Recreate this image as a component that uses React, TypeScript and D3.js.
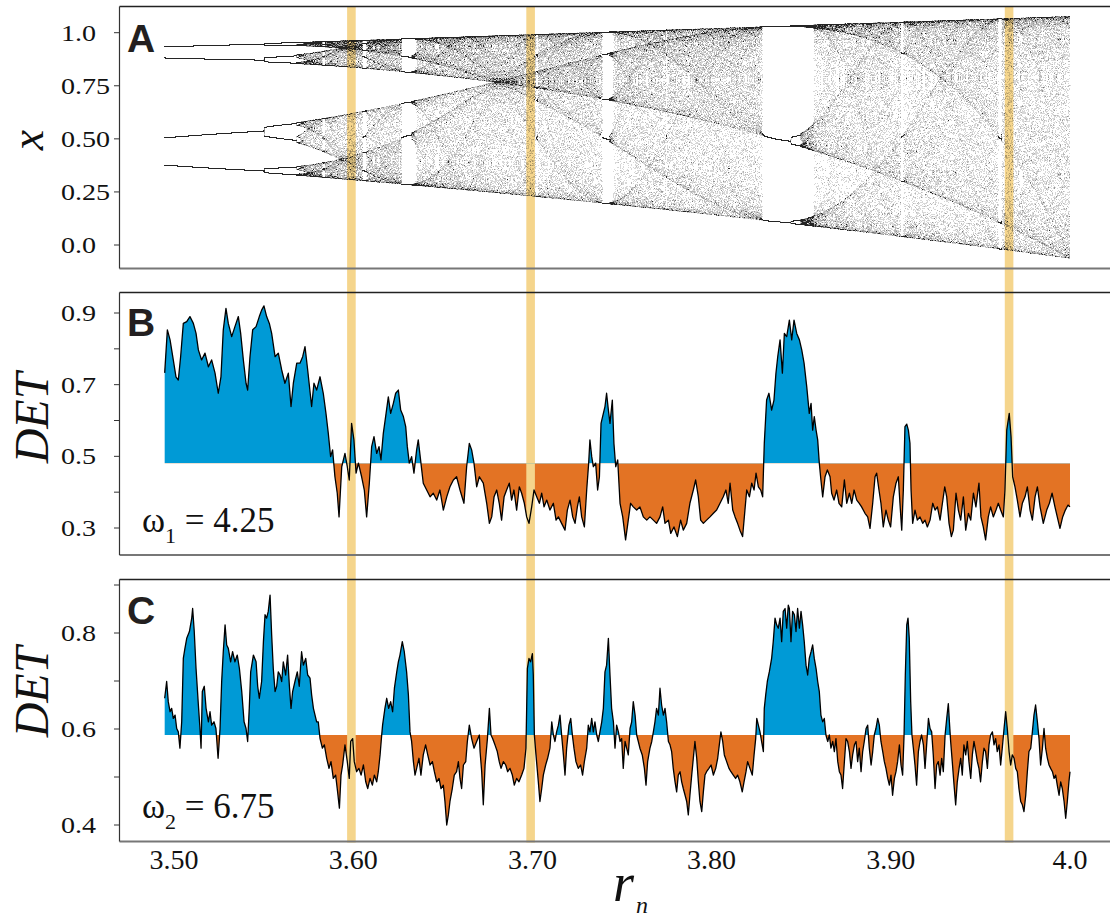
import React, { useMemo } from "react";
import * as d3 from "d3";

// ---------- axis / annotation data ----------
const xTickValues = [3.5, 3.6, 3.7, 3.8, 3.9, 4.0];
const xTickLabels = ["3.50", "3.60", "3.70", "3.80", "3.90", "4.0"];
const aTickValues = [0, 0.25, 0.5, 0.75, 1.0];
const aTickLabels = ["0.0", "0.25", "0.50", "0.75", "1.0"];
const bTickValues = [0.3, 0.5, 0.7, 0.9];
const bMinorTicks = [0.4, 0.6, 0.8];
const cTickValues = [0.4, 0.6, 0.8];
const cMinorTicks = [0.5, 0.7, 0.9];
const highlightR = [3.599, 3.699, 3.966];
const baselineB = 0.481;
const baselineC = 0.5875;
const omegaLabels = ["4.25", "6.75"];

// ---------- panel A: logistic map with slowly drifting r_n ----------
const rStart = 3.4948;
const rEnd = 4.0;
const nSteps = 150000;
const xGain = 1.14; // display rescaling of x seen on the axis
const xOffset = -0.063;

// ---------- panel B: DET (omega1 = 4.25), [r_n, DET] ----------
const detB: [number, number][] = [
  [3.4948,0.733],[3.4963,0.853],[3.4978,0.825],[3.4996,0.769],[3.5011,0.722],[3.5024,0.713],[3.5037,0.778],[3.5052,0.871],[3.5071,0.876],[3.5089,0.890],
  [3.5108,0.871],[3.5123,0.843],[3.5136,0.797],[3.5154,0.769],[3.5173,0.788],[3.5192,0.750],[3.5210,0.769],[3.5229,0.732],[3.5247,0.676],[3.5262,0.722],
  [3.5275,0.853],[3.5290,0.913],[3.5303,0.871],[3.5322,0.834],[3.5340,0.862],[3.5359,0.890],[3.5372,0.843],[3.5387,0.769],[3.5402,0.704],[3.5411,0.685],
  [3.5424,0.778],[3.5439,0.853],[3.5458,0.862],[3.5476,0.890],[3.5489,0.908],[3.5502,0.920],[3.5517,0.890],[3.5532,0.871],[3.5545,0.843],[3.5564,0.778],
  [3.5582,0.788],[3.5601,0.741],[3.5619,0.704],[3.5638,0.732],[3.5653,0.639],[3.5666,0.704],[3.5685,0.760],[3.5703,0.760],[3.5718,0.778],[3.5731,0.806],
  [3.5746,0.741],[3.5768,0.639],[3.5781,0.704],[3.5796,0.685],[3.5815,0.722],[3.5833,0.676],[3.5848,0.620],[3.5861,0.564],[3.5874,0.499],[3.5885,0.518],
  [3.5898,0.443],[3.5911,0.397],[3.5921,0.331],[3.5936,0.471],[3.5954,0.508],[3.5967,0.471],[3.5978,0.434],[3.5991,0.592],[3.6004,0.546],[3.6016,0.453],
  [3.6029,0.481],[3.6047,0.443],[3.6062,0.406],[3.6075,0.331],[3.6090,0.425],[3.6103,0.527],[3.6116,0.555],[3.6131,0.508],[3.6144,0.527],[3.6155,0.490],
  [3.6168,0.564],[3.6181,0.611],[3.6196,0.666],[3.6209,0.620],[3.6224,0.648],[3.6237,0.676],[3.6252,0.685],[3.6265,0.629],[3.6280,0.611],[3.6293,0.583],
  [3.6302,0.527],[3.6313,0.481],[3.6326,0.499],[3.6339,0.453],[3.6354,0.518],[3.6363,0.546],[3.6376,0.490],[3.6391,0.425],[3.6410,0.406],[3.6429,0.387],
  [3.6447,0.397],[3.6466,0.378],[3.6484,0.406],[3.6503,0.350],[3.6522,0.387],[3.6540,0.415],[3.6559,0.434],[3.6577,0.443],[3.6596,0.406],[3.6618,0.369],
  [3.6633,0.471],[3.6648,0.536],[3.6661,0.518],[3.6674,0.481],[3.6689,0.415],[3.6704,0.443],[3.6726,0.425],[3.6745,0.369],[3.6760,0.313],[3.6773,0.331],
  [3.6786,0.387],[3.6801,0.406],[3.6815,0.369],[3.6828,0.322],[3.6842,0.387],[3.6856,0.406],[3.6871,0.425],[3.6884,0.378],[3.6897,0.406],[3.6912,0.350],
  [3.6927,0.415],[3.6940,0.397],[3.6955,0.369],[3.6968,0.331],[3.6981,0.313],[3.6996,0.359],[3.7009,0.406],[3.7024,0.387],[3.7039,0.369],[3.7052,0.397],
  [3.7065,0.359],[3.7080,0.378],[3.7098,0.350],[3.7117,0.369],[3.7132,0.322],[3.7145,0.331],[3.7163,0.313],[3.7182,0.294],[3.7195,0.350],[3.7210,0.378],
  [3.7225,0.331],[3.7238,0.313],[3.7251,0.359],[3.7262,0.387],[3.7275,0.331],[3.7290,0.303],[3.7303,0.406],[3.7314,0.481],[3.7321,0.546],[3.7331,0.499],
  [3.7340,0.471],[3.7353,0.481],[3.7364,0.406],[3.7374,0.443],[3.7383,0.592],[3.7396,0.620],[3.7405,0.639],[3.7414,0.676],[3.7424,0.629],[3.7433,0.592],
  [3.7446,0.657],[3.7455,0.536],[3.7465,0.471],[3.7476,0.490],[3.7489,0.369],[3.7504,0.331],[3.7520,0.267],[3.7535,0.322],[3.7548,0.369],[3.7563,0.359],
  [3.7582,0.350],[3.7600,0.359],[3.7619,0.331],[3.7638,0.322],[3.7656,0.331],[3.7675,0.322],[3.7693,0.313],[3.7712,0.331],[3.7727,0.359],[3.7740,0.313],
  [3.7759,0.322],[3.7772,0.285],[3.7790,0.303],[3.7809,0.276],[3.7827,0.322],[3.7842,0.294],[3.7861,0.313],[3.7879,0.369],[3.7898,0.406],[3.7911,0.434],
  [3.7926,0.387],[3.7939,0.322],[3.7954,0.313],[3.7972,0.322],[3.7991,0.331],[3.8010,0.341],[3.8028,0.350],[3.8047,0.369],[3.8065,0.387],[3.8080,0.406],
  [3.8093,0.369],[3.8103,0.425],[3.8118,0.350],[3.8131,0.331],[3.8145,0.313],[3.8158,0.294],[3.8173,0.276],[3.8186,0.350],[3.8196,0.406],[3.8211,0.387],
  [3.8224,0.425],[3.8237,0.406],[3.8248,0.453],[3.8261,0.415],[3.8274,0.406],[3.8285,0.387],[3.8294,0.536],[3.8307,0.657],[3.8320,0.676],[3.8335,0.629],
  [3.8348,0.657],[3.8359,0.732],[3.8369,0.778],[3.8382,0.825],[3.8395,0.732],[3.8406,0.843],[3.8419,0.834],[3.8434,0.880],[3.8447,0.825],[3.8460,0.880],
  [3.8475,0.843],[3.8490,0.825],[3.8503,0.797],[3.8516,0.760],[3.8531,0.694],[3.8545,0.620],[3.8555,0.648],[3.8564,0.573],[3.8573,0.611],[3.8583,0.573],
  [3.8592,0.546],[3.8601,0.481],[3.8610,0.434],[3.8620,0.387],[3.8633,0.443],[3.8646,0.462],[3.8661,0.443],[3.8670,0.397],[3.8683,0.378],[3.8698,0.406],
  [3.8711,0.369],[3.8726,0.359],[3.8741,0.434],[3.8754,0.369],[3.8769,0.397],[3.8782,0.369],[3.8795,0.406],[3.8810,0.378],[3.8824,0.369],[3.8837,0.359],
  [3.8856,0.341],[3.8871,0.331],[3.8884,0.299],[3.8899,0.369],[3.8912,0.443],[3.8921,0.453],[3.8934,0.406],[3.8945,0.369],[3.8958,0.303],[3.8973,0.350],
  [3.8986,0.322],[3.8999,0.303],[3.9014,0.387],[3.9029,0.425],[3.9042,0.443],[3.9051,0.369],[3.9061,0.294],[3.9070,0.406],[3.9079,0.583],[3.9089,0.590],
  [3.9098,0.573],[3.9107,0.536],[3.9113,0.406],[3.9122,0.313],[3.9135,0.350],[3.9148,0.322],[3.9163,0.331],[3.9178,0.313],[3.9191,0.322],[3.9204,0.303],
  [3.9219,0.322],[3.9234,0.369],[3.9247,0.350],[3.9260,0.359],[3.9275,0.322],[3.9288,0.369],[3.9301,0.415],[3.9312,0.387],[3.9325,0.313],[3.9338,0.276],
  [3.9349,0.294],[3.9364,0.397],[3.9377,0.350],[3.9390,0.322],[3.9405,0.387],[3.9418,0.294],[3.9433,0.341],[3.9446,0.322],[3.9461,0.397],[3.9475,0.359],
  [3.9492,0.425],[3.9503,0.331],[3.9516,0.303],[3.9529,0.267],[3.9544,0.331],[3.9557,0.359],[3.9572,0.331],[3.9587,0.350],[3.9600,0.369],[3.9613,0.350],
  [3.9628,0.331],[3.9637,0.406],[3.9647,0.573],[3.9661,0.620],[3.9671,0.555],[3.9680,0.443],[3.9693,0.415],[3.9706,0.378],[3.9721,0.331],[3.9734,0.369],
  [3.9749,0.387],[3.9762,0.415],[3.9777,0.350],[3.9790,0.322],[3.9805,0.387],[3.9818,0.415],[3.9833,0.359],[3.9851,0.313],[3.9870,0.350],[3.9885,0.369],
  [3.9900,0.397],[3.9916,0.359],[3.9929,0.331],[3.9944,0.299],[3.9959,0.331],[3.9974,0.350],[3.9989,0.364],[4.0000,0.359],
];

// ---------- panel C: DET (omega2 = 6.75), [r_n, DET] ----------
const detC: [number, number][] = [
  [3.4948,0.664],[3.4959,0.699],[3.4968,0.657],[3.4978,0.636],[3.4987,0.643],[3.4996,0.622],[3.5006,0.629],[3.5015,0.601],[3.5024,0.594],[3.5033,0.560],
  [3.5043,0.615],[3.5052,0.747],[3.5061,0.768],[3.5071,0.789],[3.5086,0.803],[3.5099,0.831],[3.5104,0.851],[3.5113,0.803],[3.5123,0.726],[3.5136,0.650],
  [3.5145,0.601],[3.5151,0.560],[3.5158,0.678],[3.5169,0.689],[3.5179,0.643],[3.5192,0.615],[3.5201,0.636],[3.5210,0.608],[3.5223,0.615],[3.5234,0.601],
  [3.5246,0.539],[3.5257,0.601],[3.5266,0.699],[3.5275,0.761],[3.5285,0.817],[3.5294,0.775],[3.5303,0.768],[3.5316,0.740],[3.5327,0.761],[3.5340,0.740],
  [3.5353,0.754],[3.5365,0.726],[3.5378,0.678],[3.5391,0.615],[3.5402,0.601],[3.5411,0.574],[3.5420,0.643],[3.5428,0.719],[3.5443,0.754],[3.5458,0.740],
  [3.5467,0.689],[3.5476,0.664],[3.5489,0.699],[3.5499,0.782],[3.5508,0.838],[3.5517,0.831],[3.5526,0.845],[3.5536,0.879],[3.5545,0.796],[3.5554,0.726],
  [3.5564,0.678],[3.5573,0.689],[3.5582,0.719],[3.5592,0.7125],[3.5601,0.699],[3.5610,0.740],[3.5623,0.7125],[3.5634,0.754],[3.5644,0.689],[3.5653,0.643],
  [3.5662,0.678],[3.5675,0.699],[3.5688,0.719],[3.5699,0.689],[3.5712,0.761],[3.5722,0.733],[3.5735,0.747],[3.5746,0.7125],[3.5759,0.706],[3.5768,0.671],
  [3.5778,0.643],[3.5787,0.629],[3.5796,0.615],[3.5805,0.615],[3.5815,0.580],[3.5828,0.560],[3.5839,0.567],[3.5852,0.539],[3.5865,0.518],[3.5876,0.532],
  [3.5889,0.497],[3.5902,0.504],[3.5913,0.469],[3.5923,0.435],[3.5932,0.504],[3.5941,0.525],[3.5954,0.567],[3.5967,0.532],[3.5978,0.497],[3.5986,0.574],
  [3.5997,0.580],[3.6006,0.532],[3.6019,0.511],[3.6032,0.518],[3.6044,0.504],[3.6057,0.525],[3.6070,0.490],[3.6081,0.476],[3.6094,0.497],[3.6107,0.483],
  [3.6118,0.504],[3.6131,0.490],[3.6140,0.511],[3.6150,0.546],[3.6159,0.5875],[3.6164,0.608],[3.6177,0.643],[3.6187,0.664],[3.6198,0.643],[3.6209,0.657],
  [3.6220,0.636],[3.6230,0.685],[3.6243,0.719],[3.6252,0.740],[3.6261,0.754],[3.6274,0.782],[3.6285,0.761],[3.6298,0.719],[3.6308,0.671],[3.6317,0.594],
  [3.6326,0.574],[3.6336,0.532],[3.6345,0.504],[3.6354,0.518],[3.6367,0.539],[3.6378,0.504],[3.6391,0.546],[3.6404,0.567],[3.6416,0.546],[3.6429,0.525],
  [3.6442,0.532],[3.6453,0.511],[3.6466,0.490],[3.6479,0.497],[3.6490,0.476],[3.6503,0.483],[3.6512,0.449],[3.6522,0.400],[3.6531,0.421],[3.6540,0.449],
  [3.6553,0.476],[3.6564,0.504],[3.6577,0.511],[3.6587,0.532],[3.6596,0.497],[3.6605,0.476],[3.6615,0.525],[3.6628,0.532],[3.6637,0.574],[3.6648,0.608],
  [3.6661,0.580],[3.6674,0.560],[3.6689,0.574],[3.6704,0.5875],[3.6708,0.553],[3.6717,0.511],[3.6726,0.442],[3.6736,0.525],[3.6749,0.580],[3.6760,0.643],
  [3.6769,0.5875],[3.6778,0.580],[3.6791,0.567],[3.6804,0.553],[3.6815,0.532],[3.6825,0.518],[3.6838,0.532],[3.6851,0.525],[3.6862,0.511],[3.6875,0.518],
  [3.6888,0.504],[3.6899,0.483],[3.6912,0.497],[3.6925,0.490],[3.6940,0.504],[3.6953,0.518],[3.6964,0.560],[3.6972,0.726],[3.6981,0.747],[3.6990,0.740],
  [3.7000,0.757],[3.7005,0.7125],[3.7011,0.5875],[3.7020,0.546],[3.7033,0.490],[3.7042,0.449],[3.7052,0.476],[3.7061,0.504],[3.7074,0.525],[3.7085,0.539],
  [3.7098,0.560],[3.7108,0.615],[3.7117,0.5875],[3.7126,0.574],[3.7135,0.594],[3.7145,0.608],[3.7154,0.629],[3.7163,0.5875],[3.7173,0.546],[3.7182,0.504],
  [3.7191,0.560],[3.7204,0.608],[3.7214,0.622],[3.7223,0.5875],[3.7232,0.560],[3.7243,0.532],[3.7256,0.518],[3.7269,0.525],[3.7280,0.504],[3.7290,0.532],
  [3.7303,0.560],[3.7312,0.608],[3.7321,0.594],[3.7331,0.622],[3.7340,0.594],[3.7349,0.615],[3.7359,0.5875],[3.7368,0.574],[3.7377,0.594],[3.7387,0.615],
  [3.7396,0.643],[3.7405,0.719],[3.7414,0.733],[3.7424,0.789],[3.7433,0.7125],[3.7442,0.643],[3.7452,0.615],[3.7461,0.560],[3.7470,0.608],[3.7480,0.594],
  [3.7489,0.574],[3.7498,0.580],[3.7507,0.518],[3.7517,0.574],[3.7526,0.560],[3.7535,0.546],[3.7545,0.601],[3.7554,0.615],[3.7563,0.657],[3.7573,0.629],
  [3.7582,0.5875],[3.7591,0.574],[3.7600,0.560],[3.7613,0.546],[3.7625,0.518],[3.7634,0.483],[3.7643,0.532],[3.7656,0.560],[3.7666,0.574],[3.7675,0.594],
  [3.7684,0.615],[3.7693,0.643],[3.7703,0.629],[3.7712,0.685],[3.7721,0.650],[3.7731,0.629],[3.7740,0.643],[3.7749,0.615],[3.7759,0.574],[3.7768,0.567],
  [3.7777,0.553],[3.7786,0.518],[3.7796,0.490],[3.7805,0.469],[3.7814,0.504],[3.7824,0.511],[3.7833,0.490],[3.7842,0.476],[3.7852,0.462],[3.7861,0.449],
  [3.7870,0.421],[3.7879,0.462],[3.7889,0.504],[3.7898,0.539],[3.7907,0.574],[3.7917,0.539],[3.7926,0.490],[3.7935,0.449],[3.7945,0.428],[3.7954,0.469],
  [3.7963,0.504],[3.7972,0.511],[3.7985,0.518],[3.7997,0.525],[3.8010,0.504],[3.8023,0.518],[3.8034,0.539],[3.8043,0.567],[3.8052,0.594],[3.8062,0.574],
  [3.8071,0.546],[3.8084,0.532],[3.8097,0.518],[3.8108,0.511],[3.8121,0.504],[3.8134,0.497],[3.8145,0.504],[3.8158,0.490],[3.8171,0.469],[3.8181,0.490],
  [3.8192,0.511],[3.8201,0.532],[3.8214,0.518],[3.8227,0.504],[3.8237,0.546],[3.8246,0.580],[3.8252,0.622],[3.8261,0.608],[3.8270,0.594],[3.8279,0.574],
  [3.8289,0.553],[3.8294,0.643],[3.8302,0.671],[3.8311,0.699],[3.8322,0.719],[3.8335,0.747],[3.8344,0.782],[3.8354,0.831],[3.8363,0.817],[3.8372,0.810],
  [3.8382,0.831],[3.8391,0.782],[3.8400,0.845],[3.8410,0.851],[3.8419,0.810],[3.8428,0.858],[3.8434,0.851],[3.8443,0.782],[3.8452,0.845],[3.8462,0.838],
  [3.8471,0.803],[3.8480,0.851],[3.8490,0.810],[3.8499,0.845],[3.8508,0.817],[3.8517,0.782],[3.8527,0.733],[3.8536,0.7125],[3.8545,0.747],[3.8555,0.761],
  [3.8564,0.775],[3.8573,0.747],[3.8583,0.726],[3.8592,0.699],[3.8601,0.678],[3.8610,0.629],[3.8620,0.615],[3.8629,0.622],[3.8638,0.5875],[3.8648,0.574],
  [3.8657,0.5875],[3.8666,0.560],[3.8676,0.574],[3.8685,0.553],[3.8694,0.580],[3.8704,0.532],[3.8713,0.511],[3.8722,0.504],[3.8731,0.476],[3.8741,0.532],
  [3.8750,0.580],[3.8759,0.574],[3.8769,0.553],[3.8778,0.518],[3.8787,0.546],[3.8797,0.567],[3.8806,0.574],[3.8815,0.532],[3.8824,0.560],[3.8834,0.511],
  [3.8843,0.553],[3.8852,0.574],[3.8862,0.601],[3.8871,0.608],[3.8880,0.560],[3.8890,0.525],[3.8899,0.553],[3.8908,0.5875],[3.8917,0.601],[3.8927,0.622],
  [3.8936,0.608],[3.8945,0.574],[3.8955,0.553],[3.8964,0.532],[3.8973,0.518],[3.8983,0.497],[3.8992,0.483],[3.9001,0.504],[3.9010,0.462],[3.9020,0.497],
  [3.9029,0.511],[3.9038,0.532],[3.9048,0.567],[3.9057,0.525],[3.9066,0.504],[3.9074,0.5875],[3.9081,0.7125],[3.9089,0.817],[3.9096,0.831],[3.9103,0.789],
  [3.9111,0.657],[3.9118,0.5875],[3.9126,0.560],[3.9135,0.525],[3.9144,0.483],[3.9154,0.553],[3.9163,0.574],[3.9172,0.5875],[3.9182,0.567],[3.9191,0.518],
  [3.9200,0.567],[3.9210,0.622],[3.9219,0.601],[3.9228,0.594],[3.9237,0.546],[3.9247,0.476],[3.9256,0.525],[3.9265,0.532],[3.9275,0.504],[3.9284,0.539],
  [3.9293,0.511],[3.9303,0.5875],[3.9312,0.622],[3.9321,0.653],[3.9327,0.615],[3.9334,0.574],[3.9343,0.532],[3.9353,0.483],[3.9362,0.442],[3.9371,0.490],
  [3.9381,0.518],[3.9390,0.539],[3.9399,0.504],[3.9408,0.567],[3.9418,0.546],[3.9427,0.574],[3.9436,0.532],[3.9446,0.497],[3.9455,0.546],[3.9464,0.574],
  [3.9474,0.553],[3.9483,0.532],[3.9492,0.518],[3.9501,0.490],[3.9511,0.532],[3.9520,0.560],[3.9529,0.553],[3.9539,0.518],[3.9548,0.567],[3.9557,0.5875],
  [3.9567,0.594],[3.9576,0.567],[3.9585,0.580],[3.9594,0.553],[3.9604,0.567],[3.9613,0.525],[3.9622,0.560],[3.9632,0.601],[3.9641,0.636],[3.9650,0.601],
  [3.9660,0.553],[3.9669,0.525],[3.9678,0.546],[3.9688,0.539],[3.9697,0.518],[3.9706,0.511],[3.9715,0.476],[3.9725,0.449],[3.9734,0.442],[3.9743,0.428],
  [3.9753,0.462],[3.9762,0.511],[3.9771,0.553],[3.9781,0.560],[3.9790,0.594],[3.9799,0.629],[3.9808,0.650],[3.9818,0.615],[3.9827,0.580],[3.9836,0.525],
  [3.9846,0.560],[3.9855,0.601],[3.9864,0.560],[3.9874,0.539],[3.9883,0.525],[3.9892,0.518],[3.9902,0.511],[3.9911,0.497],[3.9920,0.504],[3.9929,0.483],
  [3.9939,0.462],[3.9948,0.490],[3.9957,0.476],[3.9967,0.449],[3.9976,0.414],[3.9985,0.449],[3.9994,0.490],[4.0000,0.511],
];

const W = 1110;
const H = 918;
const SERIF = "'Liberation Serif', 'Times New Roman', Tinos, serif";
const SANS = "'Liberation Sans', Arial, sans-serif";
const BLUE = "#009ad6";
const ORANGE = "#e37324";
const BAND = "#f5d58c";

export default function App() {
  const x = d3.scaleLinear().domain([3.5, 4.0]).range([174, 1070]);
  const yA = d3.scaleLinear().domain([0, 1]).range([245, 32.7]);
  const yB = d3.scaleLinear().domain([0.3, 0.9]).range([528, 313]);
  const yC = d3.scaleLinear().domain([0.4, 0.8]).range([825, 633]);

  const left = 119.5;
  const right = 1110;
  const frames = [
    { top: 6.5, bottom: 268.5 },
    { top: 292.5, bottom: 555 },
    { top: 579.5, bottom: 841.5 },
  ];

  const scatter = useMemo(() => {
    const w = W;
    const h = 300;
    const counts = new Uint16Array(w * h);
    let xv = 0.5;
    for (let i = 0; i < 3000; i++) xv = rStart * xv * (1 - xv);
    for (let n = 0; n < nSteps; n++) {
      const r = rStart + ((rEnd - rStart) * n) / (nSteps - 1);
      xv = r * xv * (1 - xv);
      const px = Math.floor(x(r));
      const py = Math.floor(yA(xGain * xv + xOffset));
      if (px >= 0 && px < w && py >= 0 && py < h) counts[py * w + px]++;
    }
    const buckets: string[][] = [[], [], [], [], []];
    for (let i = 0; i < counts.length; i++) {
      const c = counts[i];
      if (!c) continue;
      const px = i % w;
      const py = (i - px) / w;
      buckets[Math.min(c, 5) - 1].push(`M${px} ${py}h1v1h-1z`);
    }
    return buckets.map((b) => b.join(""));
  }, []);
  const levelOpacity = [0.17, 0.3, 0.44, 0.58, 0.92];

  const panels = [
    { data: detB, y: yB, base: baselineB, frame: frames[1], id: "b" },
    { data: detC, y: yC, base: baselineC, frame: frames[2], id: "c" },
  ];

  const areaFor = (p: any) =>
    d3
      .area<[number, number]>()
      .x((d) => x(d[0]))
      .y0(p.y(p.base))
      .y1((d) => p.y(d[1]))(p.data) || "";
  const lineFor = (p: any) =>
    d3
      .line<[number, number]>()
      .x((d) => x(d[0]))
      .y((d) => p.y(d[1]))(p.data) || "";

  const yTickText = (label: string, y: number, key: string) => (
    <text
      key={key}
      transform={`translate(61, ${y + 8}) scale(1.17, 1)`}
      style={{ fontFamily: SERIF }}
      fontSize={24}
      fill="#111"
    >
      {label}
    </text>
  );

  return (
    <svg
      width={W}
      height={H}
      viewBox={`0 0 ${W} ${H}`}
      style={{ position: "absolute", left: 0, top: 0, background: "#fff" }}
    >
      <defs>
        {panels.map((p) => (
          <React.Fragment key={p.id}>
            <clipPath id={`above-${p.id}`}>
              <rect x={0} y={p.frame.top} width={W} height={p.y(p.base) - p.frame.top} />
            </clipPath>
            <clipPath id={`below-${p.id}`}>
              <rect x={0} y={p.y(p.base)} width={W} height={p.frame.bottom - p.y(p.base)} />
            </clipPath>
          </React.Fragment>
        ))}
      </defs>

      {/* orange (below baseline) */}
      {panels.map((p) => (
        <path key={`o-${p.id}`} d={areaFor(p)} fill={ORANGE} clipPath={`url(#below-${p.id})`} />
      ))}

      {/* highlight bands */}
      {highlightR.map((r, i) => (
        <rect key={`band-${i}`} x={x(r) - 4.3} y={6.5} width={8.6} height={836} fill={BAND} />
      ))}

      {/* blue (above baseline) */}
      {panels.map((p) => (
        <path key={`b-${p.id}`} d={areaFor(p)} fill={BLUE} clipPath={`url(#above-${p.id})`} />
      ))}

      {/* DET lines */}
      {panels.map((p) => (
        <path
          key={`l-${p.id}`}
          d={lineFor(p)}
          fill="none"
          stroke="#000"
          strokeWidth={1.3}
          strokeLinejoin="round"
        />
      ))}

      {/* panel A scatter */}
      {scatter.map((d, i) => (
        <path key={`s-${i}`} d={d} fill="#111" fillOpacity={levelOpacity[i]} />
      ))}

      {/* frames */}
      {frames.map((f, i) => (
        <g key={`f-${i}`}>
          <line x1={left} x2={right} y1={f.top} y2={f.top} stroke="#222" strokeWidth={1.3} />
          <line x1={left} x2={right} y1={f.bottom} y2={f.bottom} stroke="#777" strokeWidth={2} />
          <line x1={left} x2={left} y1={f.top} y2={f.bottom} stroke="#333" strokeWidth={1.2} />
        </g>
      ))}

      {/* panel A ticks */}
      {aTickValues.map((v, i) => (
        <g key={`ta-${i}`}>
          <line x1={114} x2={left} y1={yA(v)} y2={yA(v)} stroke="#333" strokeWidth={1} />
          {yTickText(aTickLabels[i], yA(v), `tat-${i}`)}
        </g>
      ))}
      {/* panel B ticks */}
      {bTickValues.map((v, i) => (
        <g key={`tb-${i}`}>
          <line x1={114} x2={left} y1={yB(v)} y2={yB(v)} stroke="#333" strokeWidth={1} />
          {yTickText(d3.format(".1f")(v), yB(v), `tbt-${i}`)}
        </g>
      ))}
      {bMinorTicks.map((v, i) => (
        <line key={`mb-${i}`} x1={114} x2={left} y1={yB(v)} y2={yB(v)} stroke="#333" strokeWidth={1} />
      ))}
      {/* panel C ticks */}
      {cTickValues.map((v, i) => (
        <g key={`tc-${i}`}>
          <line x1={114} x2={left} y1={yC(v)} y2={yC(v)} stroke="#333" strokeWidth={1} />
          {yTickText(d3.format(".1f")(v), yC(v), `tct-${i}`)}
        </g>
      ))}
      {cMinorTicks.map((v, i) => (
        <line key={`mc-${i}`} x1={114} x2={left} y1={yC(v)} y2={yC(v)} stroke="#333" strokeWidth={1} />
      ))}

      {/* x tick labels */}
      {xTickValues.map((v, i) => (
        <text
          key={`tx-${i}`}
          x={x(v)}
          y={869}
          textAnchor="middle"
          style={{ fontFamily: SERIF }}
          fontSize={28}
          fill="#111"
        >
          {xTickLabels[i]}
        </text>
      ))}

      {/* axis titles */}
      <text x={613} y={901} style={{ fontFamily: SERIF }} fontStyle="italic" fontSize={54} fill="#111">
        r
      </text>
      <text x={636} y={913} style={{ fontFamily: SERIF }} fontStyle="italic" fontSize={24} fill="#111">
        n
      </text>
      <text
        transform="translate(43, 140) rotate(-90)"
        textAnchor="middle"
        style={{ fontFamily: SERIF }}
        fontStyle="italic"
        fontSize={46}
        fill="#111"
      >
        x
      </text>
      <text
        transform="translate(48, 418) rotate(-90)"
        textAnchor="middle"
        style={{ fontFamily: SERIF }}
        fontStyle="italic"
        fontSize={48}
        fill="#111"
      >
        DET
      </text>
      <text
        transform="translate(48, 692) rotate(-90)"
        textAnchor="middle"
        style={{ fontFamily: SERIF }}
        fontStyle="italic"
        fontSize={48}
        fill="#111"
      >
        DET
      </text>

      {/* panel letters */}
      {["A", "B", "C"].map((t, i) => (
        <text
          key={`pl-${t}`}
          x={127}
          y={[52, 336, 624][i]}
          style={{ fontFamily: SANS }}
          fontWeight="bold"
          fontSize={39}
          fill="#231f20"
        >
          {t}
        </text>
      ))}

      {/* omega annotations */}
      {omegaLabels.map((val, i) => (
        <text
          key={`om-${i}`}
          x={142}
          y={[532, 818][i]}
          style={{ fontFamily: SERIF }}
          fontSize={35}
          fill="#111"
        >
          ω
          <tspan fontSize={22} dy={11}>
            {i + 1}
          </tspan>
          <tspan dy={-11}>{" = " + val}</tspan>
        </text>
      ))}
    </svg>
  );
}
